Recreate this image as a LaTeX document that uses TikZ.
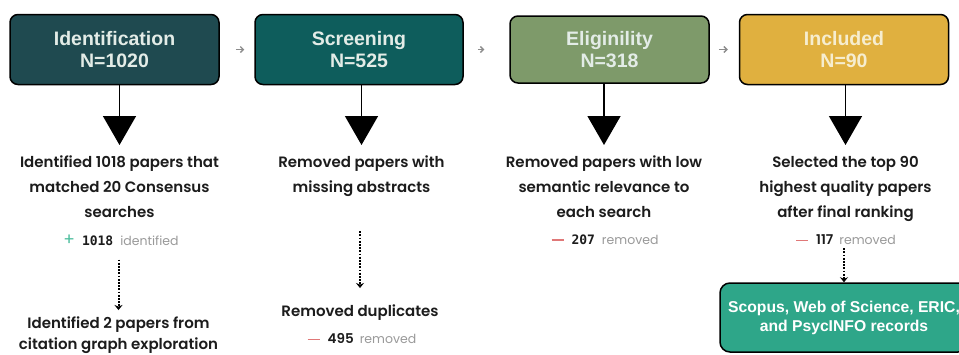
\documentclass[tikz,border=0pt]{standalone}
\usepackage{fontspec}
\setmainfont{Poppins}[BoldFont={* SemiBold}]
\newfontfamily\titlefont{Liberation Sans}
\newfontfamily\numfont{DejaVu Sans Mono}
\usetikzlibrary{arrows.meta}
\definecolor{cone}{HTML}{1F4A50}
\definecolor{ctwo}{HTML}{0E5D5C}
\definecolor{cthree}{HTML}{7E9A6A}
\definecolor{cfour}{HTML}{E0B03F}
\definecolor{cfive}{HTML}{2EA689}
\definecolor{titletxt}{HTML}{E3ECE7}
\definecolor{titletxtb}{HTML}{F6EDCF}
\definecolor{bodytxt}{HTML}{1C1C1C}
\definecolor{graytxt}{HTML}{9A9A9A}
\definecolor{plusc}{HTML}{4FBF9F}
\definecolor{minusc}{HTML}{E07878}
\definecolor{arrowgray}{HTML}{8C8C8C}
\newcommand{\plusmark}{\textcolor{plusc}{\fontsize{17}{15}\selectfont +}\hspace{7pt}}
\newcommand{\minusmark}{\textcolor{minusc}{\rule[0.28em]{12pt}{1.8pt}}\hspace{8pt}}
\newcommand{\statnum}[1]{\textcolor{bodytxt}{\fontsize{13.5}{15}\selectfont\bfseries #1}\hspace{6pt}}
\newcommand{\statmono}[1]{\textcolor{bodytxt}{\numfont\fontsize{13}{15}\selectfont\bfseries #1}\hspace{7pt}}
\begin{document}
\begin{tikzpicture}[x=1pt,y=-1pt,
  stage/.style={draw=black, line width=1.5pt, rounded corners=8pt,
    minimum height=70pt, text=titletxt, align=center,
    font=\titlefont\bfseries\fontsize{19.5}{22}\selectfont},
  desc/.style={font=\bfseries\fontsize{15}{25}\selectfont, text=bodytxt,
    align=center, inner sep=0pt, anchor=north},
  stat/.style={font=\fontsize{12.5}{15}\selectfont, text=graytxt, inner sep=0pt},
  bigarrow/.style={line width=1.5pt, -{Triangle[length=29pt,width=33pt]}},
  dotarrow/.style={line width=2pt, dash pattern=on 1.8pt off 1.4pt,
    -{Stealth[length=5pt,width=8pt]}},
  smallarrow/.style={arrowgray, line width=1.3pt, -{Straight Barb[length=3pt,width=6pt]}}
]
\path[use as bounding box] (0,0) rectangle (959,354);
\clip (0,0) rectangle (959,354);
\fill[white] (0,0) rectangle (959,354);

% stage boxes
\node[stage, fill=cone, minimum width=209pt] (b1) at (114.5,49.5) {Identification\\N=1020};
\node[stage, fill=ctwo, minimum width=208pt] (b2) at (359,49.5) {Screening\\N=525};
\node[stage, fill=cthree, minimum width=199pt, minimum height=67pt] (b3) at (609.5,49.5) {Eliginility\\N=318};
\node[stage, fill=cfour, minimum width=209pt, text=titletxtb] (b4) at (844,49.5) {Included\\N=90};

% small arrows between boxes
\draw[smallarrow, shorten <=16pt, shorten >=10pt] (b1.east) -- (b2.west);
\draw[smallarrow, shorten <=14pt, shorten >=25pt] (b2.east) -- (b3.west);
\draw[smallarrow, shorten <=9pt, shorten >=11pt] (b3.east) -- (b4.west);

% descriptions
\node[desc] (d1) at (119.5,156) {Identified 1018 papers that\\matched 20 Consensus\\searches};
\node[desc] (d2) at (361.5,156) {Removed papers with\\missing abstracts};
\node[desc] (d3) at (604,156) {Removed papers with low\\semantic relevance to\\each search};
\node[desc] (d4) at (845.5,156) {Selected the top 90\\highest quality papers\\after final ranking};

% stats
\node[stat] (s1) at (121,240) {\plusmark\statmono{1018}identified};
\node[stat] (s3) at (605,240) {\minusmark\statmono{207}removed};
\node[stat] (s4) at (846,240) {\minusmark\statnum{117}removed};

% second-level items
\node[desc, font=\bfseries\fontsize{15}{21}\selectfont] (d1b) at (118.5,317) {Identified 2 papers from\\citation graph exploration};
\node[desc] (d2b) at (360,305) {Removed duplicates};
\node[stat] (s2) at (362,339) {\minusmark\statnum{495}removed};

% bottom box
\node[draw=black, line width=1.5pt, rounded corners=10pt, fill=cfive,
  minimum width=248pt, minimum height=69pt, text=white, align=center,
  font=\titlefont\bfseries\fontsize{15.7}{19}\selectfont] (b5) at (844,317.5)
  {Scopus, Web of Science, ERIC,\\and PsycINFO records};

% big arrows
\draw[bigarrow, shorten >=11pt] (b1.south -| d1.north) -- (d1.north);
\draw[bigarrow, shorten >=11pt] (b2.south -| d2.north) -- (d2.north);
\draw[bigarrow, shorten >=11pt] (b3.south -| d3.north) -- (d3.north);
\draw[bigarrow, shorten >=11pt] (b4.south -| d4.north) -- (d4.north);

% dotted arrows
\draw[dotarrow, shorten <=14pt, shorten >=7pt] (d1b.north |- s1.south) -- (d1b.north);
\draw[dotarrow, shorten <=34pt, shorten >=17pt] (d2b.north |- d2.south) -- (d2b.north);
\draw[dotarrow, shorten <=3pt] (b5.north |- s4.south) -- (b5.north);
\end{tikzpicture}
\end{document}
